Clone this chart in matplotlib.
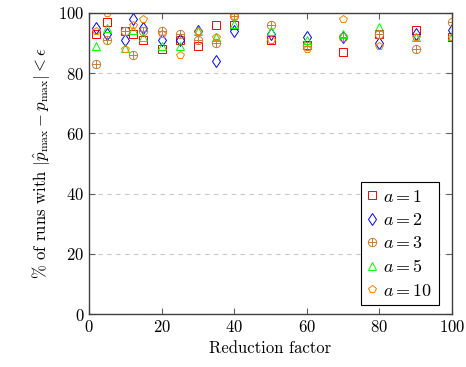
import numpy as np
import matplotlib
matplotlib.use('Agg')
import matplotlib.pyplot as plt
from matplotlib.path import Path

plt.rcParams['font.family'] = 'cmr10'
plt.rcParams['mathtext.fontset'] = 'cm'
plt.rcParams['axes.formatter.use_mathtext'] = True

# reduction factors
x = [2, 5, 10, 12, 15, 20, 25, 30, 35, 40, 50, 60, 70, 80, 90, 100]

# % of runs, one list per value of a
a1 = [93, 97, 94, 93, 91, 88, 91, 89, 96, 96, 91, 89.5, 87, 93, 94.5, 92]
a2 = [95, 93, 91, 98, 95, 91, 91, 94, 84, 94, 93, 92, 92, 90, 93, 94.5]
a3 = [83, 91, 94, 86, 94, 94, 93, 91, 90, 99, 96, 89, 92, 93, 88, 97]
a5 = [89, 95, 88.5, 94.5, 92, 89, 89, 94, 92, 96.5, 94, 91, 93, 95.5, 92, 92.5]
a10 = [94, 100, 88, 96, 98, 93, 86, 94, 92, 99, 91, 88, 98, 89, 92, 92]

oplus = Path.make_compound_path(
    Path.unit_circle(),
    Path([[-1, 0], [1, 0]], [Path.MOVETO, Path.LINETO]),
    Path([[0, -1], [0, 1]], [Path.MOVETO, Path.LINETO]),
)

series = [
    (a1, 's', (1, 0, 0), '$a = 1$', 5.8),
    (a2, 'd', (0, 0, 1), '$a = 2$', 6),
    (a3, oplus, (0.75, 0.5, 0.25), '$a = 3$', 6),
    (a5, '^', (0, 1, 0), '$a = 5$', 5.5),
    (a10, 'p', (1, 0.5, 0), '$a = 10$', 6),
]

fig = plt.figure(figsize=(4.66, 3.67), dpi=100)
ax = fig.add_axes([0.191, 0.1444, 0.779, 0.8202])

for ys, m, c, lab, ms in series:
    ax.plot(x, ys, linestyle='none', marker=m, markersize=ms,
            markerfacecolor='none', markeredgecolor=c, markeredgewidth=0.7,
            label=lab)

ax.set_xlim(0, 100)
ax.set_ylim(0, 100)
ax.set_xticks(np.arange(0, 101, 20))
ax.set_yticks(np.arange(0, 101, 20))
ax.yaxis.grid(True, linestyle=(0, (4, 4)), color='#c8c8c8', linewidth=0.8)
ax.set_axisbelow(True)
ax.tick_params(direction='in', top=True, right=True, length=4,
               color='#606060', labelsize=12)
for s in ax.spines.values():
    s.set_color('#404040')
    s.set_linewidth(1.0)

ax.set_xlabel('Reduction factor', fontsize=12)
ax.set_ylabel(r'% of runs with $|\hat{p}_{\max} - p_{\max}| < \epsilon$', fontsize=12)

leg = ax.legend(loc='lower right', bbox_to_anchor=(0.964, 0.03), fontsize=13,
                fancybox=False, framealpha=1, edgecolor='black',
                handlelength=0.5, handletextpad=0.4, borderpad=0.35,
                labelspacing=0.4, borderaxespad=0)
leg.get_frame().set_linewidth(0.8)

fig.savefig('out.png', dpi=100)
